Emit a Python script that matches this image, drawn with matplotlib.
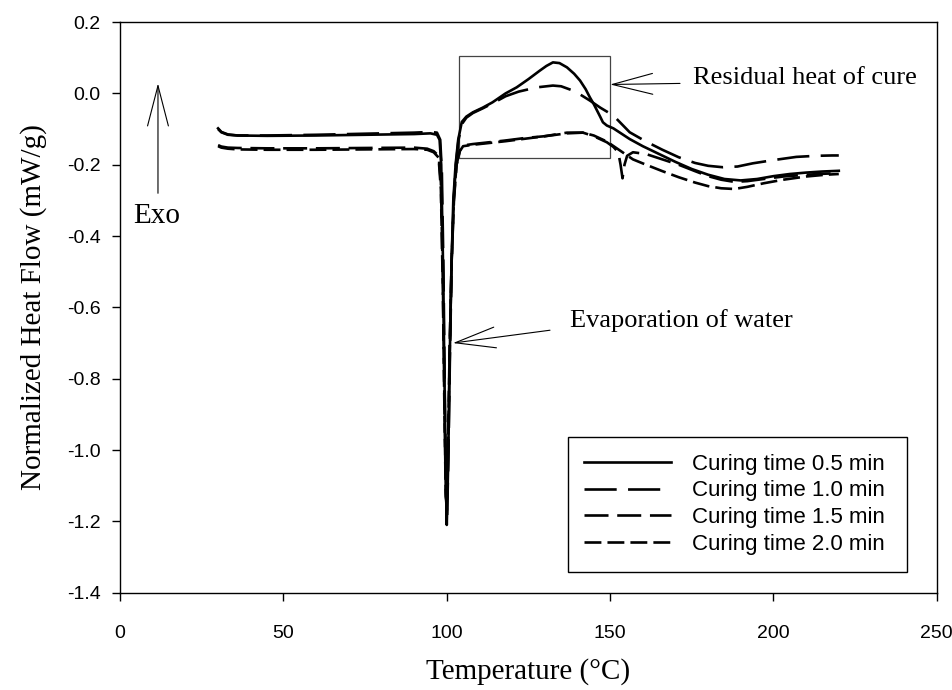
import matplotlib
matplotlib.use("Agg")
import matplotlib.pyplot as plt
from matplotlib.patches import Rectangle
from matplotlib.ticker import FormatStrFormatter

# DSC traces: temperature (°C) and normalized heat flow (mW/g)
t05 = [30, 31, 33, 36, 45, 60, 75, 90, 95, 97, 97.8, 98.3, 98.8, 99.3, 99.7, 100.0,
       100.4, 100.9, 101.4, 102.0, 102.7, 103.5, 104.6, 106, 108, 111, 114, 118, 121.4,
       125, 128.5, 130.5, 132.5, 134.5, 136.8, 139, 140.8, 142.5, 143.8, 145, 146, 147,
       147.8, 149, 151, 153, 156, 160, 165, 170, 175, 180, 185, 190, 195, 200, 205, 210,
       215, 220]
hf05 = [-0.098, -0.108, -0.115, -0.118, -0.119, -0.118, -0.116, -0.114, -0.112, -0.116,
        -0.13, -0.2, -0.45, -0.8, -1.08, -1.21, -1.05, -0.75, -0.5, -0.3, -0.2, -0.13,
        -0.08, -0.065, -0.053, -0.04, -0.025, 0.0, 0.017, 0.04, 0.064, 0.077, 0.087,
        0.085, 0.073, 0.055, 0.036, 0.012, -0.011, -0.03, -0.048, -0.066, -0.081, -0.09,
        -0.098, -0.11, -0.128, -0.148, -0.17, -0.192, -0.212, -0.228, -0.24, -0.244,
        -0.24, -0.232, -0.226, -0.222, -0.219, -0.217]

t10 = [30, 31, 33, 36, 45, 60, 75, 90, 95, 97, 98, 98.5, 99.0, 99.4, 99.8, 100.1, 100.5,
       101.0, 101.5, 102.1, 102.8, 103.6, 104.7, 106, 108, 111, 114, 118, 122, 127.6,
       132.5, 135, 138.6, 141, 143.8, 147, 151, 156, 161, 166, 171, 176, 180, 184.5, 189,
       193.7, 200, 207, 213, 218, 220]
hf10 = [-0.1, -0.109, -0.116, -0.118, -0.118, -0.116, -0.113, -0.11, -0.108, -0.11,
        -0.13, -0.22, -0.5, -0.85, -1.12, -1.19, -1.02, -0.72, -0.48, -0.3, -0.2, -0.13,
        -0.085, -0.068, -0.055, -0.042, -0.028, -0.008, 0.005, 0.017, 0.022, 0.02, 0.008,
        -0.004, -0.02, -0.04, -0.062, -0.109, -0.135, -0.158, -0.179, -0.195, -0.203,
        -0.207, -0.205, -0.196, -0.187, -0.178, -0.175, -0.174, -0.174]

t15 = [30, 31, 33, 36, 45, 60, 75, 90, 94, 96, 97.5, 98.2, 98.8, 99.3, 99.7, 100.0,
       100.4, 100.9, 101.5, 102.2, 103.0, 104.0, 105, 108, 112, 118, 124, 130, 136.8,
       141.7, 145, 149, 151, 152.5, 153.2, 153.8, 154.4, 155.2, 157, 161, 166, 171, 176,
       180, 184, 188, 192, 197, 203, 210, 216, 220]
hf15 = [-0.145, -0.149, -0.152, -0.153, -0.154, -0.154, -0.153, -0.152, -0.155, -0.162,
        -0.175, -0.25, -0.52, -0.88, -1.12, -1.17, -1.0, -0.72, -0.47, -0.3, -0.2, -0.16,
        -0.146, -0.142, -0.138, -0.132, -0.125, -0.12, -0.11, -0.11, -0.12, -0.137,
        -0.15, -0.165, -0.2, -0.238, -0.2, -0.175, -0.165, -0.17, -0.185, -0.2, -0.218,
        -0.232, -0.242, -0.248, -0.246, -0.24, -0.233, -0.228, -0.225, -0.224]

t20 = [30, 31, 33, 36, 45, 60, 75, 90, 94, 96, 97.5, 98.2, 98.8, 99.3, 99.7, 100.0,
       100.4, 100.9, 101.5, 102.2, 103.0, 104.0, 105, 108, 112, 118, 124, 130, 136.8,
       141.7, 145, 149, 153, 157, 161, 166, 171, 176, 180, 184, 188, 192, 197, 203, 210,
       216, 220]
hf20 = [-0.148, -0.152, -0.155, -0.157, -0.158, -0.158, -0.157, -0.156, -0.158, -0.165,
        -0.18, -0.27, -0.55, -0.9, -1.13, -1.15, -0.98, -0.7, -0.46, -0.29, -0.2, -0.162,
        -0.148, -0.144, -0.14, -0.134, -0.127, -0.12, -0.112, -0.11, -0.118, -0.135,
        -0.16, -0.185, -0.2, -0.218, -0.235, -0.25, -0.26, -0.266, -0.268, -0.262,
        -0.252, -0.242, -0.233, -0.228, -0.226]

labels = ["Curing time 0.5 min", "Curing time 1.0 min",
          "Curing time 1.5 min", "Curing time 2.0 min"]

SERIF = "Liberation Serif"
SANS = "Liberation Sans"

plt.rcParams["axes.unicode_minus"] = False
plt.rcParams["font.family"] = SANS

fig, ax = plt.subplots(figsize=(9.53, 6.9), dpi=100)
fig.subplots_adjust(left=0.126, right=0.983, bottom=0.141, top=0.968)

lw = 1.9
ax.plot(t05, hf05, color="k", lw=lw, ls="-", label=labels[0])
ax.plot(t10, hf10, color="k", lw=lw, ls=(0, (12.2, 4.3)), label=labels[1])
ax.plot(t15, hf15, color="k", lw=lw, ls=(0, (9.1, 3.3)), label=labels[2])
ax.plot(t20, hf20, color="k", lw=lw, ls=(0, (6.4, 2.3)), label=labels[3])

ax.set_xlim(0, 250)
ax.set_ylim(-1.4, 0.2)
ax.set_xticks(range(0, 251, 50))
ax.set_yticks([-1.4, -1.2, -1.0, -0.8, -0.6, -0.4, -0.2, 0.0, 0.2])
ax.yaxis.set_major_formatter(FormatStrFormatter("%.1f"))
ax.tick_params(direction="out", length=6, width=1, labelsize=14, colors="k")
ax.tick_params(axis="x", pad=17)
ax.tick_params(axis="y", pad=8)
for sp in ax.spines.values():
    sp.set_linewidth(1.0)

ax.set_xlabel("Temperature (°C)", family=SERIF, fontsize=21, labelpad=12)
ax.set_ylabel("Normalized Heat Flow (mW/g)", family=SERIF, fontsize=21, labelpad=14)

# box around the residual cure exotherm
ax.add_patch(Rectangle((103.7, -0.182), 46.3, 0.288, fill=False,
                       edgecolor="#444444", lw=0.9))

arrow = dict(arrowstyle="->,head_length=2.9,head_width=0.75", color="k", lw=0.8,
             shrinkA=0, shrinkB=0, mutation_scale=10)

ax.annotate("", xy=(150.0, 0.025), xytext=(171.4, 0.028), arrowprops=arrow)
ax.text(175.3, 0.042, "Residual heat of cure", family=SERIF, fontsize=19,
        ha="left", va="center")

ax.annotate("", xy=(101.9, -0.70), xytext=(131.6, -0.664), arrowprops=arrow)
ax.text(137.7, -0.636, "Evaporation of water", family=SERIF, fontsize=19,
        ha="left", va="center")

ax.annotate("", xy=(11.6, 0.028), xytext=(11.6, -0.28), arrowprops=arrow)
ax.text(11.2, -0.345, "Exo", family=SERIF, fontsize=21, ha="center", va="center")

leg = ax.legend(loc="lower left", bbox_to_anchor=(0.548, 0.037, 0.415, 0.247),
                mode="expand", fontsize=16, handlelength=3.88, handletextpad=0.95,
                labelspacing=0.26, borderpad=0.75, borderaxespad=0, fancybox=False,
                framealpha=1, edgecolor="k")
leg.get_frame().set_linewidth(1.0)

fig.savefig("out.png", dpi=100)
